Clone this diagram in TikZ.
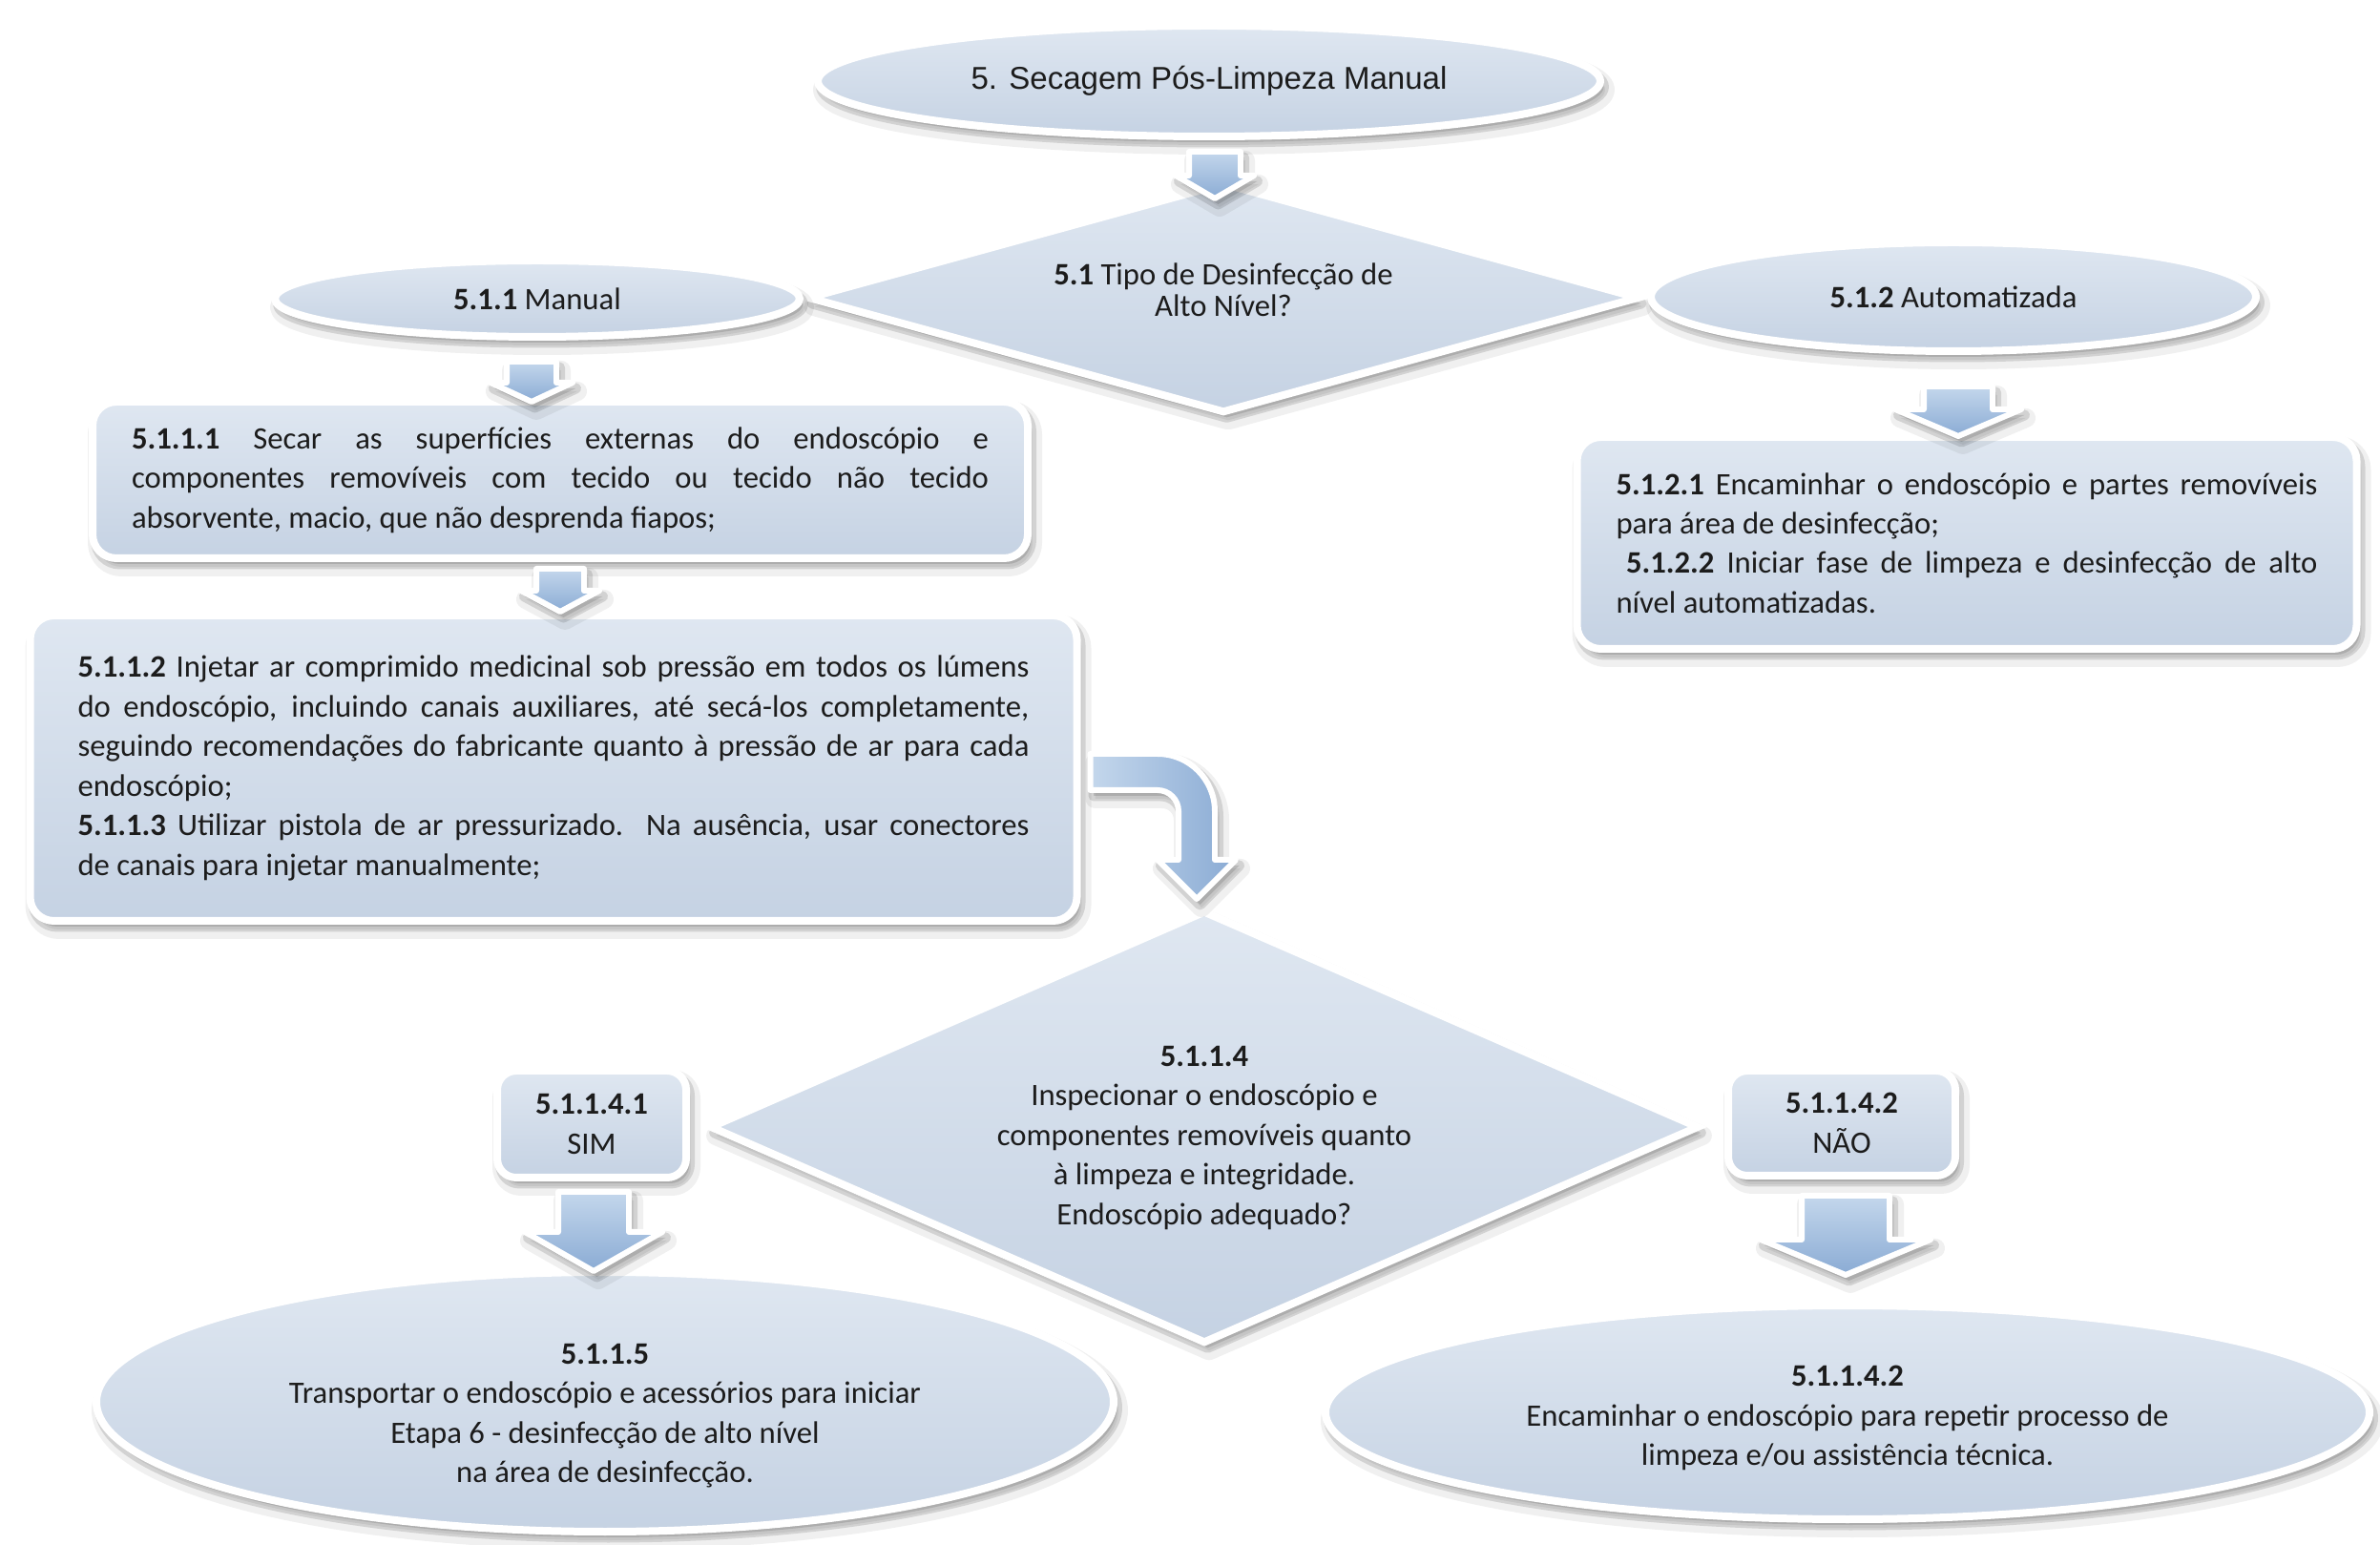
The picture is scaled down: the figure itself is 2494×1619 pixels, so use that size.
\documentclass[tikz,border=0pt]{standalone}
\usepackage{fontspec}
\setmainfont{Carlito}
\newfontfamily\headfont{Liberation Sans}
\usetikzlibrary{shapes.geometric,shadows,calc}

\definecolor{fillTop}{HTML}{DFE7F1}
\definecolor{fillBot}{HTML}{C5D2E3}
\definecolor{arrowTop}{HTML}{C4D7EC}
\definecolor{arrowBot}{HTML}{8AABD4}
\definecolor{ink}{HTML}{1C1C1C}

\newcommand\txtfont{\fontsize{9.3}{11.8}\selectfont\parindent=0pt\relax}
% one justified line spread over a given width (with stretchable word spaces)
\newcommand\fullline[2]{\makebox[#1][s]{\spaceskip=0pt\xspaceskip=0pt #2}\\}
% centred lines with no height of their own, raised by a given amount
\newcommand\stack[2]{\raisebox{#1}[0pt][0pt]{\begin{tabular}{@{}c@{}}#2\end{tabular}}}
% downward block arrow: top centre, length, half shaft, half head, head length
\newcommand\blockdown[5]{%
  \path[blockarrow] (#1) ++(-#3,0) -- ++(0,#2-#5) -- ++(#3-#4,0)
    -- ++(#4,#5) -- ++(#4,-#5) -- ++(#3-#4,0) -- ++(0,-#2+#5) -- cycle;}

\begin{document}
\begin{tikzpicture}[x=0.1mm,y=-0.1mm,
  softshadow/.style={
    general shadow={shadow xshift=0.5mm, shadow yshift=-0.9mm, fill=black, draw=black, line width=2mm, line join=round, opacity=0.06},
    general shadow={shadow xshift=0.35mm, shadow yshift=-0.6mm, fill=black, draw=black, line width=1.1mm, line join=round, opacity=0.12}},
  panel/.style={draw=white, line width=0.8mm, top color=fillTop, bottom color=fillBot,
    text=ink, font=\txtfont, softshadow},
  ovalnode/.style={panel, ellipse, inner sep=0pt, align=center},
  rectnode/.style={panel, rectangle, rounded corners=2.5mm, inner sep=0pt},
  decisionnode/.style={panel, diamond, inner sep=0pt},
  blockarrow/.style={draw=white, line width=0.6mm, top color=arrowTop, bottom color=arrowBot,
    line join=round, softshadow}]

\useasboundingbox[fill=white] (0,0) rectangle (2494,1619);

% ---- top level ----
\node[ovalnode, minimum width=82mm, minimum height=11.6mm,
      font=\headfont\fontsize{9.4}{11}\selectfont] (title) at (1267,85)
  {5. Secagem Pós-Limpeza Manual};

\node[decisionnode, aspect=3.6, minimum width=87.2mm, minimum height=24.2mm] (dec1) at (1282,312)
  {\stack{-0.25mm}{\textbf{5.1} Tipo de Desinfecção de\\[-2.4pt]Alto Nível?}};

\node[ovalnode, minimum width=55mm, minimum height=8mm] (manual) at (563,313)
  {\textbf{5.1.1} Manual};
\node[ovalnode, minimum width=63.4mm, minimum height=11.4mm] (auto) at (2047,311)
  {\textbf{5.1.2} Automatizada};

% ---- manual branch ----
\node[rectnode, minimum width=98mm, minimum height=16.4mm, text width=89.8mm, align=justify] (b1) at (587,503)
  {\fullline{89.8mm}{\textbf{5.1.1.1} Secar as superfícies externas do endoscópio e}
   \fullline{89.8mm}{componentes removíveis com tecido ou tecido não tecido}
   absorvente, macio, que não desprenda fiapos;};

\node[rectnode, minimum width=109.7mm, minimum height=32mm, text width=99.7mm, align=justify] (b2) at (580,805)
  {\fullline{99.7mm}{\textbf{5.1.1.2} Injetar ar comprimido medicinal sob pressão em todos os lúmens}
   \fullline{99.7mm}{do endoscópio, incluindo canais auxiliares, até secá-los completamente,}
   \fullline{99.7mm}{seguindo recomendações do fabricante quanto à pressão de ar para cada}
   endoscópio;\\
   \fullline{99.7mm}{\textbf{5.1.1.3} Utilizar pistola de ar pressurizado. Na ausência, usar conectores}
   de canais para injetar manualmente;};

% ---- automated branch ----
\node[rectnode, minimum width=81.7mm, minimum height=22.2mm, text width=73.5mm, align=justify] (b3) at (2061,569)
  {\fullline{73.5mm}{\textbf{5.1.2.1} Encaminhar o endoscópio e partes removíveis}
   para área de desinfecção;\\
   \fullline{73.5mm}{\hspace*{3pt}\textbf{5.1.2.2} Iniciar fase de limpeza e desinfecção de alto}
   nível automatizadas.};

% ---- inspection ----
\node[decisionnode, aspect=2.28, minimum width=103.7mm, minimum height=45.4mm] (dec2) at (1262,1181)
  {\stack{-1.9mm}{\textbf{5.1.1.4}\\Inspecionar o endoscópio e\\componentes removíveis quanto\\à limpeza e integridade.\\Endoscópio adequado?}};

\node[rectnode, rounded corners=2mm, align=center, minimum width=19.8mm, minimum height=11.2mm] (sim) at (620,1178)
  {\textbf{5.1.1.4.1}\\SIM};
\node[rectnode, rounded corners=2mm, align=center, minimum width=23.8mm, minimum height=11mm] (nao) at (1930,1177)
  {\textbf{5.1.1.4.2}\\NÃO};

\node[ovalnode, minimum width=106.6mm, minimum height=27.2mm] (end1) at (634,1469)
  {\stack{-2.2mm}{\textbf{5.1.1.5}\\Transportar o endoscópio e acessórios para iniciar\\Etapa 6 - desinfecção de alto nível\\na área de desinfecção.}};
\node[ovalnode, minimum width=109.4mm, minimum height=22.4mm] (end2) at (1936,1480)
  {\stack{-1.4mm}{\textbf{5.1.1.4.2}\\Encaminhar o endoscópio para repetir processo de\\limpeza e/ou assistência técnica.}};

% ---- block arrows ----
\coordinate (a1) at ($(title.south)+(6,12)$);
\coordinate (a2) at ($(manual.south)+(-6,22)$);
\coordinate (a3) at ($(b1.south)+(0,7)$);
\coordinate (a4) at ($(auto.south)+(5,33)$);
\coordinate (a5) at ($(sim.south)+(2,11)$);
\coordinate (a6) at ($(nao.south)+(4,17)$);

\blockdown{a1}{49}{27}{41}{24}
\blockdown{a2}{42}{26}{43}{20}
\blockdown{a3}{45}{25}{41}{22}
\blockdown{a4}{52}{36}{66}{28}
\blockdown{a5}{83}{37}{72}{41}
\blockdown{a6}{83}{46}{89}{37}

% bent arrow from the drying box down to the inspection decision
\path[blockarrow, left color=arrowTop, right color=arrowBot]
  let \p1=($(b2.east)+(10,4)$), \p2=($(dec2.north)+(-8,-8)$) in
  (\x1,\y1+1.9mm) -- (\x2-4.1mm,\y1+1.9mm)
  .. controls (\x2-0.79mm,\y1+1.9mm) and (\x2+1.9mm,\y1-0.79mm) .. (\x2+1.9mm,\y1-4.1mm)
  -- (\x2+1.9mm,\y2+4.1mm) -- (\x2+4.1mm,\y2+4.1mm) -- (\x2,\y2)
  -- (\x2-4.1mm,\y2+4.1mm) -- (\x2-1.9mm,\y2+4.1mm) -- (\x2-1.9mm,\y1-4.1mm)
  .. controls (\x2-1.9mm,\y1-2.89mm) and (\x2-2.89mm,\y1-1.9mm) .. (\x2-4.1mm,\y1-1.9mm)
  -- (\x1,\y1-1.9mm) -- cycle;

\end{tikzpicture}
\end{document}
